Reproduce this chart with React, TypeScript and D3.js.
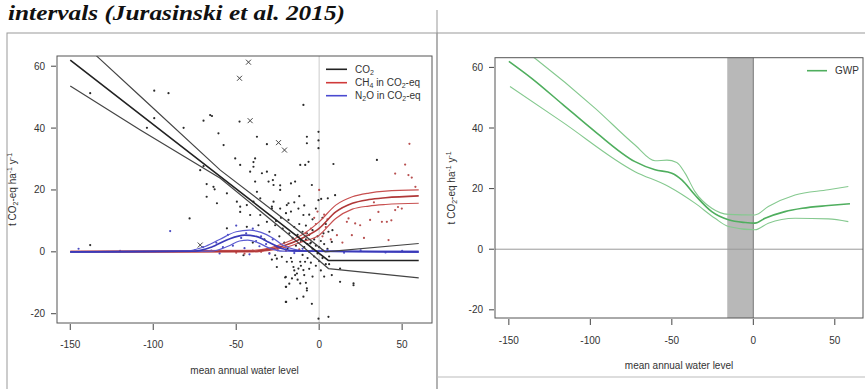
import React from "react";
import * as d3 from "d3";

type P = [number, number];

const xTicks = [-150, -100, -50, 0, 50];
const yTicks = [-20, 0, 20, 40, 60];

// CO2: segmented fit with confidence limits
const co2Fit: P[] = [[-150, 62], [5.5, -2.8], [60, -2.8]];
const co2Upper: P[] = [[-150, 71], [-133.7, 63.1], [-107.8, 50.3], [-59.6, 26.4], [-20.5, 10.3], [3.6, 0], [60, 2.7]];
const co2Lower: P[] = [[-150, 53.6], [-107.8, 39.4], [-59.6, 23.8], [-20.5, 6.6], [5.6, -5.4], [60, -8.4]];

// CH4 in CO2-eq: sigmoid fit with limits
const ch4Fit: P[] = [[-150, 0], [-40, 0.2], [-30, 0.8], [-20, 2.2], [-10, 4.5], [0, 7.6], [10, 12.9], [20, 15.7], [30, 16.9], [40, 17.5], [60, 18.1]];
const ch4Upper: P[] = [[-150, 0.2], [-40, 0.5], [-30, 1.2], [-20, 3], [-10, 5.6], [0, 9.7], [10, 15.1], [20, 17.8], [30, 19], [40, 19.6], [60, 20]];
const ch4Lower: P[] = [[-150, -0.1], [-40, 0], [-30, 0.5], [-20, 1.5], [-10, 3.3], [0, 5.4], [10, 10.8], [20, 13.8], [30, 14.8], [40, 15.3], [60, 15.7]];

// N2O in CO2-eq: smooth fit with limits
const n2oUpper: P[] = [[-150, 0], [-80, 0.3], [-70, 1.5], [-60, 4], [-50, 6.5], [-42, 7], [-35, 6.3], [-28, 4.5], [-22, 2.2], [-15, 0.8], [-5, 0.2], [60, 0.2]];
const n2oFit: P[] = [[-150, 0], [-75, 0.2], [-65, 1.5], [-55, 4], [-45, 5.4], [-38, 5], [-30, 3], [-22, 1], [-15, 0.3], [60, 0]];
const n2oLower: P[] = [[-150, -0.1], [-65, 0.2], [-55, 1.8], [-48, 3.5], [-43, 3.8], [-37, 3], [-30, 1.2], [-22, 0.2], [60, -0.2]];

// GWP: fit with limits
const gwpFit: P[] = [[-150, 62], [-136, 56.4], [-117, 47.8], [-97.1, 38.8], [-72.6, 28.9], [-60.3, 26.2], [-50, 25.1], [-43.9, 22.9], [-35.8, 17.9], [-25.5, 12.4], [-15.3, 9.7], [-5, 8.8], [1, 8.6], [7.2, 10.2], [19.4, 12.4], [30, 13.5], [46, 14.4], [59.3, 15]];
const gwpUpper: P[] = [[-150, 69.5], [-134, 63], [-97, 46.5], [-72.6, 34.4], [-60.3, 29.2], [-53, 29.4], [-47, 28.6], [-41.9, 25.1], [-35.8, 19], [-25.5, 13.5], [-15.3, 11.5], [1, 11.3], [9.2, 14.1], [25.6, 17.9], [46, 19.6], [58.3, 20.7]];
const gwpLower: P[] = [[-149.3, 53.7], [-117.5, 42.1], [-72.6, 25.6], [-52, 20.7], [-35.8, 15.2], [-23.5, 10.2], [-15.3, 7.5], [1, 6.4], [9.2, 8.6], [25.6, 10.2], [46, 10], [58.3, 9.1]];

// Observed annual CO2 balances
const co2Obs: P[] = [
  [-138, 51.3], [-138, 2.2], [-99.4, 52.1], [-90.8, 51.3], [-103.8, 40.1], [-99.4, 43.2], [-81.7, 40.1],
  [-69.7, 42.4], [-65.7, 44.2], [-60.7, 38.3], [-64.6, 43.9], [-71.7, 26.4], [-69.7, 27.7], [-67.8, 21.9],
  [-67.8, 17.8], [-63, 20.2], [-78.1, 10.8], [-55.6, 7.6], [-63.7, 21], [-61.6, 15.7], [-55.6, 18.9],
  [-48, 42.1], [-57.6, 34.5], [-37.5, 37.2], [-31.5, 34.8], [-50.6, 30.2], [-47.6, 28.1], [-38.6, 30.2],
  [-41.6, 25.9], [-34.5, 25.4], [-31.5, 25.9], [-26.5, 24.8], [-38.6, 22.7], [-30.5, 22.7], [-27.5, 21.6],
  [-27.9, 23.2], [-23.5, 20], [-23.5, 21.5], [-17, 22.1], [-37.5, 19.4], [-39.6, 27.5], [-39.6, 29],
  [-49.6, 16.2], [-43.6, 15.1], [-39.6, 16.2], [-35.5, 17.3], [-27.5, 16.2], [-28.5, 14], [-23.5, 14],
  [-19.5, 15.1], [-47.6, 12.9], [-41.6, 11.9], [-35.5, 11.9], [-31.5, 9.7], [-45.6, -1.1], [-26.5, -1.1],
  [-25.5, -2.2], [-25.5, -4.9], [-20.1, -8.1], [-20.1, -11.3], [-20.1, -16.2], [-9.5, 47.5], [-0.4, 38.8],
  [-0.4, 36], [-0.4, 33.5], [-7.4, 37.2], [-7.4, 35.1], [-8.4, 28.1], [-11.4, 28.1], [-6.4, 29.1],
  [8.6, 28.4], [34.8, 29.7], [-14.5, 22.7], [-4.4, 21.6], [9.6, 18.3], [-0.4, 16.7], [5.2, 17.3], [1.2, 17.1],
  [-16.4, -3.2], [-12.5, -5.4], [-14.5, -7.5], [-8.5, -3.2], [-18, -10.3], [-7.4, -12.5], [-4.4, -16.8],
  [-0.4, -21.6], [7.6, -7.5], [20.7, -10.2], [12.6, -5.4], [-9.5, -14.5], [-28.5, 14.6], [-18.5, 15.7],
  [-12.5, 14], [-9.5, 11.9], [-18.5, 10.3], [-26.5, 8.6], [-36.6, 8.6], [-43.6, 8.1], [-47.6, 14.6],
  [-7.4, 6], [-5.4, 2.7], [2.6, 6], [5.6, 6.5], [7.6, 3.2], [-28.5, -2.5], [-22.5, -1.6], [-19.5, -3.2],
  [-15.5, -4.9], [-11.4, -3.2], [-9.5, -5.9], [-13.4, -7], [-16.4, -8.6], [-20.5, -8.3], [-11.4, -10.2],
  [-7.4, -11.8], [-19.9, -11.3], [-13.4, -15.1], [-19.9, -16.2], [5.6, -21], [12.6, -9.7], [20.7, -10.8],
  [-18, 6], [-16, 4.5], [-15, 8], [-14, 2], [-13, 5.5], [-12, 9], [-12, 0.5], [-11, 3.5], [-10, 6.5],
  [-10, -1], [-9, 1.5], [-8, 4], [-8, 8.5], [-7, -2], [-7, 2.5], [-6, 5.5], [-6, 0], [-5, -3.5], [-5, 3],
  [-4, 7], [-4, 1], [-3, -1.5], [-3, 4], [-2, -4.5], [-2, 2], [-1, 5], [-1, -0.5], [0, 1.5], [0, -3],
  [1, 3.5], [1, -6], [2, 0.5], [2, -2], [3, 2.5], [3, -8], [4, -4], [5, 1], [6, -1.5], [-17, -2],
  [-15, -6], [-13, -9], [-11, -4.5], [-9, -7.5], [-8, -10], [-6, -5.5], [-4, -8], [-19, 1], [-21, 3],
  [-22, 7.5], [-24, 5], [-26, 10], [-23, 11], [-20, 12.5], [-17, 13], [-15, 16], [-12, 18], [-9, 15],
  [-6, 12], [-4, 10.5], [-2, 14], [2, 11], [4, 9], [6, -4], [8, 7], [-33, 4], [-30, 6.5], [-40, 3],
];

// Flagged CO2 outliers
const co2Out: P[] = [[-42.6, 61.3], [-48, 56.1], [-41.6, 42.4], [-24.5, 35.3], [-20.9, 32.9], [-71.7, 2.2]];

// Observed CH4 balances (CO2-eq)
const ch4Obs: P[] = [
  [54.4, 34.9], [51.8, 28.2], [45.8, 25.3], [53.8, 24.8], [55.8, 24], [49.8, 14], [47.5, 14.5], [16.7, 9.7],
  [24.7, 8.6], [30.7, 10.3], [40.8, 9.7], [43.5, 10.2], [19.7, 5.4], [41.8, 3.8], [10.7, 5.4], [17.7, 10.8],
  [21.7, 9.2], [37.8, 9.7], [35.7, 12.9], [45.8, 13.5], [3, 12], [4, 8], [2, 5], [5, 10.5], [-2, 9],
  [-5, 7.5], [-8, 6], [-3, 11], [-1, 13], [7, 4], [0, 20], [-12, 0.8], [-20, 0.3], [-30, -0.4], [-40, 0.4],
  [-50, -0.3], [-60, 0.2], [-35, 0], [-25, 0.5], [-45, -0.6], [14, 3], [27, 4.5], [33, 16], [58, 21],
];

// Observed N2O balances (CO2-eq)
const n2oObs: P[] = [
  [-89.8, 6.7], [-62, 3], [-55, 5.5], [-50, 8.5], [-47, 4.5], [-44, 6], [-40, 7.5], [-38, 3.5], [-35, 5],
  [-32, 2.5], [-28, 4], [-52, 2], [-58, 1.5], [-70, 1.5], [-25, 1], [-45, 1.2], [-65, 0.4], [-60, -0.5],
  [-42, -0.8], [-36, 1.8], [-30, -0.6], [-20, 0.8], [-15, -0.4], [-10, 1], [5, 0.6], [15, -0.3], [25, 0.5],
  [40, -0.2], [50, 0.3], [-75, 0.5], [-120, 0.3], [-145, 1],
];

const FONT = "'Liberation Sans', Arial, Helvetica, sans-serif";
const AX = "#444";

export default function App() {
  const W = 865;
  const H = 389;

  const xL = d3.scaleLinear().domain([-158, 68]).range([57, 432]);
  const yL = d3.scaleLinear().domain([-23, 63.3]).range([323, 56]);
  const xR = d3.scaleLinear().domain([-158.5, 67.3]).range([495, 863]);
  const yR = d3.scaleLinear().domain([-22.7, 63.2]).range([318, 57.7]);

  const linL = d3.line<P>().x((d) => xL(d[0])).y((d) => yL(d[1]));
  const smL = d3.line<P>().x((d) => xL(d[0])).y((d) => yL(d[1])).curve(d3.curveMonotoneX);
  const smR = d3.line<P>().x((d) => xR(d[0])).y((d) => yR(d[1])).curve(d3.curveMonotoneX);

  const [lx0, lx1] = xL.range();
  const [ly1, ly0] = yL.range();
  const [rx0, rx1] = xR.range();
  const [ry1, ry0] = yR.range();

  const yLabel = (x: number, y: number) => (
    <text transform={`translate(${x},${y}) rotate(-90)`} textAnchor="middle" fontSize={10} fill="#333" fontFamily={FONT}>
      t CO<tspan dy={2} fontSize={7}>2</tspan><tspan dy={-2}>-eq ha</tspan>
      <tspan dy={-4} fontSize={7}>-1</tspan><tspan dy={4}> y</tspan>
      <tspan dy={-4} fontSize={7}>-1</tspan>
    </text>
  );

  const sub = (base: string, s: string, rest: string) => (
    <>
      {base}
      <tspan dy={2} fontSize={7}>{s}</tspan>
      <tspan dy={-2}>{rest}</tspan>
    </>
  );

  return (
    <svg width={W} height={H} style={{ position: "absolute", left: 0, top: 0, background: "#fff" }} fontFamily={FONT}>
      <defs>
        <clipPath id="clipL"><rect x={lx0} y={ly0} width={lx1 - lx0} height={ly1 - ly0} /></clipPath>
        <clipPath id="clipR"><rect x={rx0} y={ry0} width={rx1 - rx0} height={ry1 - ry0} /></clipPath>
      </defs>
      <rect x={0} y={0} width={W} height={H} fill="#fff" />

      {/* caption fragment */}
      <text x={8} y={20} fontFamily="'Liberation Serif', 'DejaVu Serif', serif" fontWeight="bold" fontStyle="italic" fontSize={22}
        fill="#111" textLength={337} lengthAdjust="spacingAndGlyphs">intervals (Jurasinski et al. 2015)</text>

      {/* panel frames */}
      <rect x={7} y={33} width={430} height={380} fill="none" stroke="#999" strokeWidth={1} />
      <line x1={437} x2={437} y1={10} y2={H} stroke="#999" />
      <line x1={437} x2={W} y1={33} y2={33} stroke="#999" />
      <line x1={437} x2={W} y1={377} y2={377} stroke="#bbb" />

      {/* ===== left panel ===== */}
      <line x1={xL(0)} x2={xL(0)} y1={ly0} y2={ly1} stroke="#d4d4d4" strokeWidth={1.2} />
      <g clipPath="url(#clipL)">
        {co2Obs.map((d, i) => (
          <circle key={`c${i}`} cx={xL(d[0])} cy={yL(d[1])} r={1.1} fill="#2a2a2a" />
        ))}
        {ch4Obs.map((d, i) => (
          <circle key={`m${i}`} cx={xL(d[0])} cy={yL(d[1])} r={1.1} fill="#b85050" />
        ))}
        {n2oObs.map((d, i) => (
          <circle key={`n${i}`} cx={xL(d[0])} cy={yL(d[1])} r={1.1} fill="#4a4ac0" />
        ))}
        {co2Out.map((d, i) => {
          const cx = xL(d[0]);
          const cy = yL(d[1]);
          return (
            <g key={`o${i}`} stroke="#444" strokeWidth={1}>
              <line x1={cx - 2.5} x2={cx + 2.5} y1={cy - 2.5} y2={cy + 2.5} />
              <line x1={cx - 2.5} x2={cx + 2.5} y1={cy + 2.5} y2={cy - 2.5} />
            </g>
          );
        })}

        <path d={smL(ch4Upper) ?? ""} fill="none" stroke="#c85050" strokeWidth={1.2} />
        <path d={smL(ch4Lower) ?? ""} fill="none" stroke="#c85050" strokeWidth={1.2} />
        <path d={smL(ch4Fit) ?? ""} fill="none" stroke="#b03838" strokeWidth={1.6} />

        <path d={smL(n2oUpper) ?? ""} fill="none" stroke="#5a5ad0" strokeWidth={1.2} />
        <path d={smL(n2oLower) ?? ""} fill="none" stroke="#5a5ad0" strokeWidth={1.2} />
        <path d={smL(n2oFit) ?? ""} fill="none" stroke="#3a3ab8" strokeWidth={1.6} />

        <path d={linL(co2Upper) ?? ""} fill="none" stroke="#444" strokeWidth={1.2} />
        <path d={linL(co2Lower) ?? ""} fill="none" stroke="#444" strokeWidth={1.2} />
        <path d={linL(co2Fit) ?? ""} fill="none" stroke="#222" strokeWidth={1.6} />
      </g>
      <rect x={lx0} y={ly0} width={lx1 - lx0} height={ly1 - ly0} fill="none" stroke="#555" strokeWidth={1} />

      {/* left axes */}
      {xTicks.map((t) => (
        <g key={`lx${t}`}>
          <line x1={xL(t)} x2={xL(t)} y1={ly1 + 1} y2={ly1 + 7} stroke={AX} />
          <text x={xL(t)} y={348} textAnchor="middle" fontSize={10} fill="#333">{t}</text>
        </g>
      ))}
      {yTicks.map((t) => (
        <g key={`ly${t}`}>
          <line x1={lx0 - 6} x2={lx0 - 1} y1={yL(t)} y2={yL(t)} stroke={AX} />
          <text x={45} y={yL(t) + 3.5} textAnchor="end" fontSize={10} fill="#333">{t}</text>
        </g>
      ))}
      <text x={(lx0 + lx1) / 2} y={374} textAnchor="middle" fontSize={10} fill="#333">mean annual water level</text>
      {yLabel(16, (ly0 + ly1) / 2)}

      {/* left legend */}
      <g fontSize={10} fill="#333">
        <line x1={326} x2={347} y1={69.3} y2={69.3} stroke="#222" strokeWidth={1.6} />
        <text x={355} y={73}>{sub("CO", "2", "")}</text>
        <line x1={326} x2={347} y1={82.7} y2={82.7} stroke="#d03a3a" strokeWidth={1.6} />
        <text x={355} y={86.4}>{sub("CH", "4", " in  CO")}<tspan dy={2} fontSize={7}>2</tspan><tspan dy={-2}>-eq</tspan></text>
        <line x1={326} x2={347} y1={95.7} y2={95.7} stroke="#4a4ad0" strokeWidth={1.6} />
        <text x={355} y={99.4}>{sub("N", "2", "O in  CO")}<tspan dy={2} fontSize={7}>2</tspan><tspan dy={-2}>-eq</tspan></text>
      </g>

      {/* ===== right panel ===== */}
      <rect x={xR(-16)} y={ry0} width={xR(0) - xR(-16)} height={ry1 - ry0} fill="#b8b8b8" />
      <line x1={xR(0)} x2={xR(0)} y1={ry0} y2={ry1} stroke="#888" strokeWidth={1.2} />
      <line x1={rx0} x2={rx1} y1={yR(0)} y2={yR(0)} stroke="#999" strokeWidth={1} />
      <g clipPath="url(#clipR)">
        <path d={smR(gwpUpper) ?? ""} fill="none" stroke="#85c98f" strokeWidth={1.1} />
        <path d={smR(gwpLower) ?? ""} fill="none" stroke="#85c98f" strokeWidth={1.1} />
        <path d={smR(gwpFit) ?? ""} fill="none" stroke="#4fae5e" strokeWidth={1.6} />
      </g>
      <rect x={rx0} y={ry0} width={rx1 - rx0} height={ry1 - ry0} fill="none" stroke="#555" strokeWidth={1} />

      {xTicks.map((t) => (
        <g key={`rx${t}`}>
          <line x1={xR(t)} x2={xR(t)} y1={ry1 + 1} y2={ry1 + 7} stroke={AX} />
          <text x={xR(t)} y={344} textAnchor="middle" fontSize={10} fill="#333">{t}</text>
        </g>
      ))}
      {yTicks.map((t) => (
        <g key={`ry${t}`}>
          <line x1={rx0 - 6} x2={rx0 - 1} y1={yR(t)} y2={yR(t)} stroke={AX} />
          <text x={483} y={yR(t) + 3.5} textAnchor="end" fontSize={10} fill="#333">{t}</text>
        </g>
      ))}
      <text x={(rx0 + rx1) / 2} y={369} textAnchor="middle" fontSize={10} fill="#333">mean annual water level</text>
      {yLabel(455, (ry0 + ry1) / 2)}

      <line x1={807} x2={827} y1={70.7} y2={70.7} stroke="#4fae5e" strokeWidth={1.6} />
      <text x={835} y={74.4} fontSize={10} fill="#333">GWP</text>
    </svg>
  );
}
